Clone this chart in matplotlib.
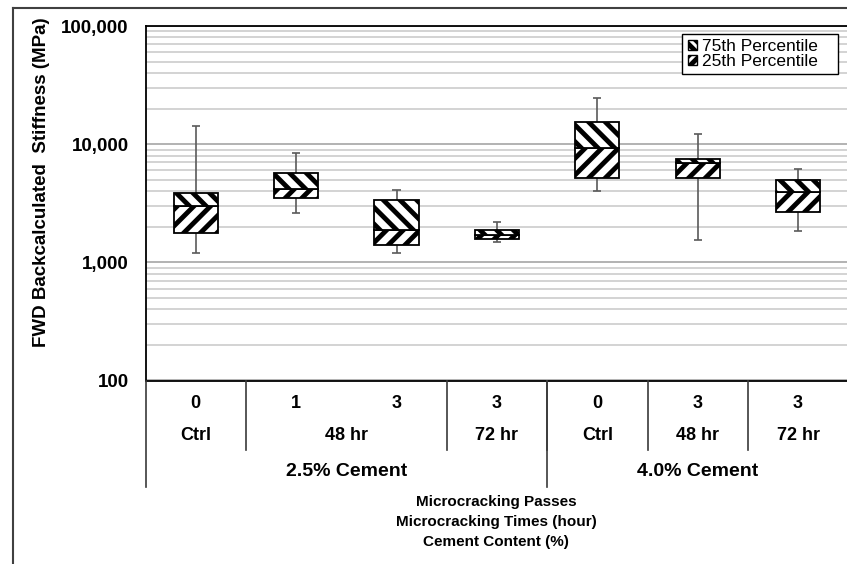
import matplotlib
matplotlib.use("Agg")
import matplotlib.pyplot as plt
from matplotlib.patches import Patch
from matplotlib.lines import Line2D
from matplotlib.transforms import blended_transform_factory
import numpy as np

# category levels (innermost first)
passes = ['0', '1', '3', '3', '0', '3', '3']
times = ['Ctrl', '48 hr', '48 hr', '72 hr', 'Ctrl', '48 hr', '72 hr']
cement = ['2.5% Cement'] * 4 + ['4.0% Cement'] * 3

# box statistics (MPa)
whisk_lo = [1200, 2590, 1190, 1490, 3990, 1550, 1845]
q1 = [1770, 3530, 1390, 1570, 5165, 5165, 2655]
med = [2980, 4200, 1885, 1700, 9250, 6900, 3935]
q3 = [3840, 5690, 3365, 1870, 15490, 7470, 5000]
whisk_hi = [14350, 8340, 4060, 2180, 24380, 12220, 6195]

yticks = [100, 1000, 10000, 100000]
legend_labels = ['75th Percentile', '25th Percentile']

plt.rcParams['font.family'] = ['Liberation Sans', 'DejaVu Sans']
plt.rcParams['hatch.linewidth'] = 3.5

W, H = 847, 564
fig = plt.figure(figsize=(W / 100, H / 100), dpi=100)
fx = lambda p: p / W
fy = lambda p: 1 - p / H

ax = fig.add_axes([fx(145.5), fy(380.5), fx(848.3 - 145.5), (380.5 - 26) / H])
x = np.arange(len(q1))
lo, a1, m, a3, hi = [np.array(v, float) for v in (whisk_lo, q1, med, q3, whisk_hi)]

# whiskers
wc = '#5a5a5a'
ax.vlines(x, a3, hi, color=wc, lw=1.2, zorder=2)
ax.vlines(x, lo, a1, color=wc, lw=1.2, zorder=2)
ax.hlines(hi, x - 0.04, x + 0.04, color=wc, lw=1.2, zorder=2)
ax.hlines(lo, x - 0.04, x + 0.04, color=wc, lw=1.2, zorder=2)

# boxes: lower half / upper half
ax.bar(x, m - a1, bottom=a1, width=0.44, facecolor='white', edgecolor='black',
       hatch='//', linewidth=1.3, zorder=3)
ax.bar(x, a3 - m, bottom=m, width=0.44, facecolor='white', edgecolor='black',
       hatch='\\\\', linewidth=1.3, zorder=3)

ax.set_yscale('log')
ax.set_ylim(100, 100000)
ax.set_xlim(-0.5, len(q1) - 0.5)
ax.set_xticks([])
ax.set_yticks(yticks)
ax.set_yticklabels(['{:,}'.format(v) for v in yticks], fontsize=13.5, fontweight='bold')
ax.yaxis.set_minor_formatter(matplotlib.ticker.NullFormatter())
ax.tick_params(axis='y', which='both', length=0, pad=12)
ax.grid(which='major', axis='y', color='#a6a6a6', lw=1.2)
ax.grid(which='minor', axis='y', color='#cccccc', lw=1.2)
ax.set_axisbelow(True)
for s in ['left', 'top', 'bottom']:
    ax.spines[s].set_linewidth(1.3)
    ax.spines[s].set_color('black')
ax.spines['right'].set_visible(False)

handles = [Patch(facecolor='white', edgecolor='black', hatch='\\\\\\', lw=1),
           Patch(facecolor='white', edgecolor='black', hatch='///', lw=1)]
leg = ax.legend(handles, [l + '   ' for l in legend_labels], loc='upper right',
                bbox_to_anchor=(fx(838), fy(34)), bbox_transform=fig.transFigure,
                fancybox=False, edgecolor='black', framealpha=1, fontsize=12.5,
                handlelength=0.55, handleheight=0.55, handletextpad=0.3,
                borderpad=0.3, labelspacing=0.0, borderaxespad=0)
leg.get_frame().set_linewidth(1.0)

# multi-level category axis
tr = blended_transform_factory(ax.transData, fig.transFigure)
lab = dict(ha='center', va='center', fontsize=13, fontweight='bold', transform=tr)
for i, p in enumerate(passes):
    fig.text(i, fy(404), p, **lab)

def runs(keys):
    out, start = [], 0
    for i in range(1, len(keys) + 1):
        if i == len(keys) or keys[i] != keys[start]:
            out.append((start, i - 1, keys[start]))
            start = i
    return out

for s, e, k in runs(list(zip(cement, times))):
    fig.text((s + e) / 2, fy(436), k[1], **lab)
    if s > 0:
        fig.add_artist(Line2D([s - 0.5, s - 0.5], [fy(380.5), fy(450)], transform=tr,
                              color='#3a3a3a', lw=1.2))
for s, e, k in runs(cement):
    fig.text((s + e) / 2, fy(472), k, **dict(lab, fontsize=14))
    fig.add_artist(Line2D([s - 0.5, s - 0.5], [fy(380.5), fy(487)], transform=tr,
                          color='#3a3a3a', lw=1.2))

fig.text(fx(496), fy(522), 'Microcracking Passes\nMicrocracking Times (hour)\nCement Content (%)',
         ha='center', va='center', fontsize=11, fontweight='bold', linespacing=1.55)

fig.text(fx(42), fy(182), 'FWD Backcalculated  Stiffness (MPa)', rotation=90,
         ha='center', va='center', fontsize=13.5, fontweight='bold')

# outer chart frame
fig.add_artist(Line2D([fx(13), 1], [fy(7.5), fy(7.5)], transform=fig.transFigure,
                      color='#404040', lw=1.5))
fig.add_artist(Line2D([fx(13), fx(13)], [fy(7.5), 0], transform=fig.transFigure,
                      color='#404040', lw=1.5))

fig.savefig('out.png', dpi=100)
